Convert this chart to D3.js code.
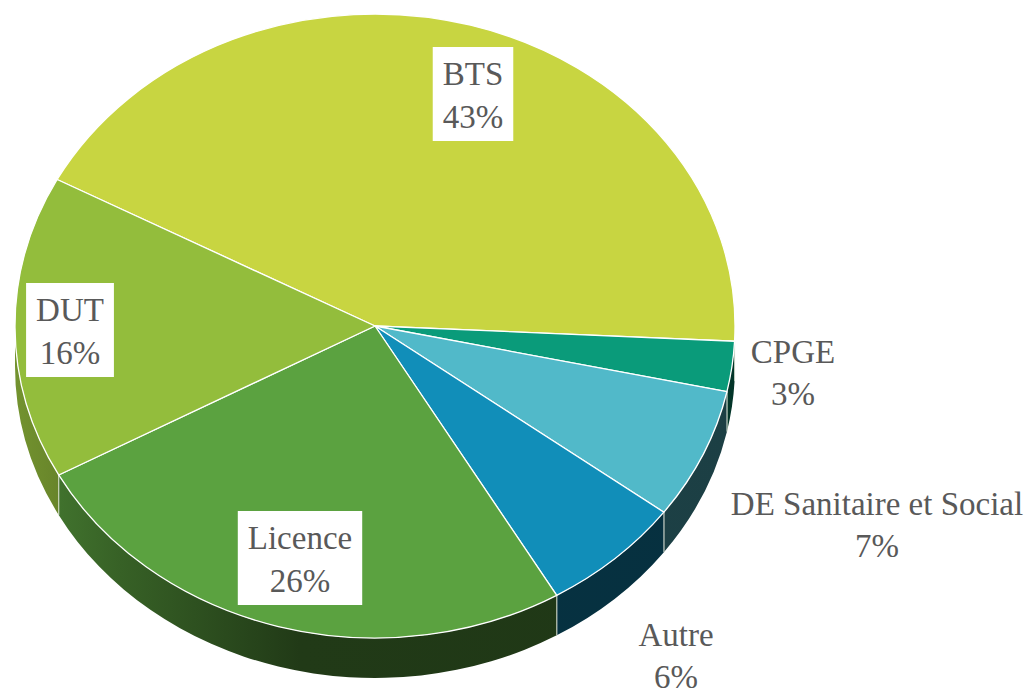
<!DOCTYPE html>
<html>
<head>
<meta charset="utf-8">
<script src="https://cdn.jsdelivr.net/npm/d3@7"></script>
<style>
  body { margin: 0; background: #fff; }
  text { font-family: "Liberation Serif", "DejaVu Serif", serif; fill: #595959; }
</style>
</head>
<body>
<script>
// data (shares in %, labels show them rounded)
const categories = ["BTS", "CPGE", "DE Sanitaire et Social", "Autre", "Licence", "DUT"];
const shares = [43.0, 2.6, 6.8, 6.4, 25.5, 15.7];
const colors = ["#C8D541", "#0A9B7A", "#51B9C9", "#118EB9", "#5BA240", "#93BD3C"];

// layout
const W = 1031, H = 693;
const cx = 375, cy = 326, rx = 360, ry = 312, depth = 40;
const startDeg = 208; // where BTS starts, clockwise from 3 o'clock

// label anchors: boxed ones are box centres, outside ones are first baselines
const labelAnchors = [[473, 94], [793, 363], [877, 515], [676, 646], [300, 558], [70, 330]];
const boxed = [true, false, false, false, true, true];

const svg = d3.select("body").append("svg")
    .attr("width", W)
    .attr("height", H);

const defs = svg.append("defs");

// d3.pie angles start at 12 o'clock, so shift by 90deg
const toRad = d => d * Math.PI / 180;
const pie = d3.pie().sort(null).value(d => d)
    .startAngle(toRad(startDeg + 90))
    .endAngle(toRad(startDeg + 90) + 2 * Math.PI);
const arcs = pie(shares);

// screen angle: clockwise from east
const th = a => a - Math.PI / 2;
const pt = (t, dy = 0) => [cx + rx * Math.cos(t), cy + ry * Math.sin(t) + dy];

// side shading: lighter on the far left, darker towards the front/right
const shadeX = [15, 120, 300, 735];
const shade = d3.scaleLinear().domain(shadeX).range([0.78, 0.6, 0.36, 0.34]);

colors.forEach((c, i) => {
    const g = defs.append("linearGradient")
        .attr("id", "side" + i)
        .attr("gradientUnits", "userSpaceOnUse")
        .attr("x1", 15).attr("x2", 735).attr("y1", 0).attr("y2", 0);
    const base = d3.rgb(c);
    shadeX.forEach(x => {
        const k = shade(x);
        g.append("stop")
            .attr("offset", (x - 15) / 720)
            .attr("stop-color", d3.rgb(base.r * k, base.g * k, base.b * k).formatHex());
    });
});

// side walls (only the front half, 0..PI screen angle, is visible)
const sideG = svg.append("g");
arcs.forEach((a, i) => {
    const t0 = th(a.startAngle), t1 = th(a.endAngle);
    const twoPi = 2 * Math.PI;
    const segs = [];
    for (let k = -2; k <= 1; k++) {
        const s = Math.max(t0 + k * twoPi, 0), e = Math.min(t1 + k * twoPi, Math.PI);
        if (e > s) segs.push([s, e]);
    }
    segs.forEach(([s, e]) => {
        const p0 = pt(s), p1 = pt(e), q1 = pt(e, depth), q0 = pt(s, depth);
        const d = `M${p0}A${rx},${ry} 0 0 1 ${p1}L${q1}A${rx},${ry} 0 0 0 ${q0}Z`;
        sideG.append("path")
            .attr("d", d)
            .attr("fill", `url(#side${i})`)
            .attr("stroke", "none");
        // light edge where slices meet on the wall
        [s, e].forEach(t => {
            if (t > 0.001 && t < Math.PI - 0.001) {
                sideG.append("line")
                    .attr("x1", pt(t)[0]).attr("y1", pt(t)[1])
                    .attr("x2", pt(t, depth)[0]).attr("y2", pt(t, depth)[1])
                    .attr("stroke", "#dfe6d8").attr("stroke-opacity", 0.8).attr("stroke-width", 1);
            }
        });
    });
});

// top face
const faceG = svg.append("g");
arcs.forEach((a, i) => {
    const t0 = th(a.startAngle), t1 = th(a.endAngle);
    const large = (t1 - t0) > Math.PI ? 1 : 0;
    const d = `M${cx},${cy}L${pt(t0)}A${rx},${ry} 0 ${large} 1 ${pt(t1)}Z`;
    faceG.append("path")
        .attr("d", d)
        .attr("fill", colors[i])
        .attr("stroke", "#ffffff")
        .attr("stroke-width", 1.3)
        .attr("stroke-linejoin", "round");
});

// labels
const fs = 33, lh = 43;
const labelG = svg.append("g");
arcs.forEach((a, i) => {
    const [lx, ly] = labelAnchors[i];
    const y1 = boxed[i] ? ly - 9 : ly;
    const g = labelG.append("g");
    const t = g.append("text")
        .attr("text-anchor", "middle")
        .attr("font-size", fs);
    t.append("tspan").attr("x", lx).attr("y", y1).text(categories[i]);
    t.append("tspan").attr("x", lx).attr("y", y1 + (boxed[i] ? lh : 42)).text(Math.round(shares[i]) + "%");
    if (boxed[i]) {
        const bb = t.node().getBBox();
        g.insert("rect", "text")
            .attr("x", bb.x - 10)
            .attr("y", ly - 47)
            .attr("width", bb.width + 20)
            .attr("height", 94)
            .attr("fill", "#ffffff");
    }
});
</script>
</body>
</html>
